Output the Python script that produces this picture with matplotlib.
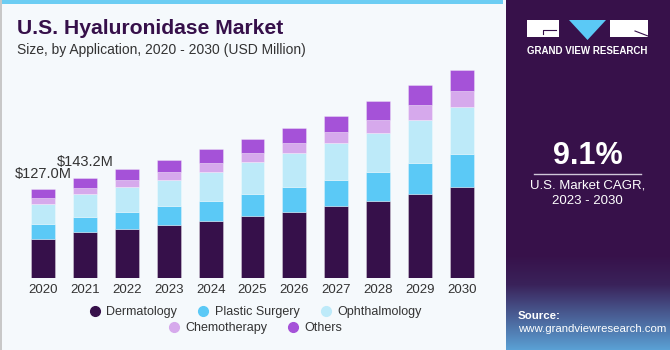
import matplotlib
matplotlib.use("Agg")
import matplotlib.pyplot as plt
import numpy as np
from matplotlib.patches import Rectangle, Polygon
from matplotlib.lines import Line2D

plt.rcParams["font.family"] = ["Liberation Sans", "DejaVu Sans"]

# dane (USD mln)
years = ["2020", "2021", "2022", "2023", "2024", "2025", "2026", "2027", "2028", "2029", "2030"]
dermatology = [56.4, 65.3, 69.6, 75.3, 81.4, 88.0, 94.1, 102.7, 110.2, 120.1, 130.1]
plastic_surgery = [20.6, 22.2, 24.6, 27.4, 28.8, 31.7, 36.0, 36.9, 40.3, 43.6, 46.9]
ophthalmology = [28.8, 31.8, 35.1, 36.9, 40.3, 45.0, 48.3, 52.1, 55.8, 61.1, 65.9]
chemotherapy = [8.5, 9.4, 10.4, 11.4, 12.8, 13.2, 14.2, 16.0, 18.5, 21.3, 23.1]
others = [12.7, 14.5, 15.6, 17.0, 19.9, 19.5, 21.3, 23.7, 26.6, 28.4, 30.8]
series_names = ["Dermatology", "Plastic Surgery", "Ophthalmology", "Chemotherapy", "Others"]
series_colors = ["#36104a", "#5bc9f6", "#bdeaf9", "#d6a9ec", "#a552d8"]
value_labels = {0: "$127.0M", 1: "$143.2M"}

W, H = 670, 350
fig = plt.figure(figsize=(W / 100, H / 100), dpi=100)
fig.patch.set_facecolor("#f5f9fc")

# pasek u góry i lewa krawędź
fig.patches.append(Rectangle((0, 1 - 4 / H), 503 / W, 4 / H, transform=fig.transFigure,
                             facecolor="#6ccdf3", edgecolor="none"))
fig.patches.append(Rectangle((0, 0), 1.5 / W, 1, transform=fig.transFigure,
                             facecolor="#c8c8c8", edgecolor="none"))

fig.text(17 / W, 1 - 29 / H, "U.S. Hyaluronidase Market", fontsize=15.2, fontweight="bold",
         color="#36104a", va="center", ha="left")
fig.text(17 / W, 1 - 50 / H, "Size, by Application, 2020 - 2030 (USD Million)", fontsize=10,
         color="#333333", va="center", ha="left")

# wykres słupkowy
ax = fig.add_axes([22 / W, (H - 278.3) / H, 461 / W, 211 / H])
ax.set_facecolor("none")
x = np.arange(len(years))
bottom = np.zeros(len(years))
for name, vals, col in zip(series_names, [dermatology, plastic_surgery, ophthalmology, chemotherapy, others], series_colors):
    ax.bar(x, vals, width=0.57, bottom=bottom, color=col, label=name,
           edgecolor=(1, 1, 1, 0.35), linewidth=0.6)
    bottom += np.array(vals)

for i, txt in value_labels.items():
    ax.annotate(txt, (x[i], bottom[i]), xytext=(0, 6), textcoords="offset points",
                ha="center", va="bottom", fontsize=10.5, color="#333333")

ax.set_xlim(-0.5, 10.5)
ax.set_ylim(0, 300)
ax.set_xticks(x)
ax.set_xticklabels(years, fontsize=9.5, color="#333333")
ax.tick_params(axis="x", length=0, pad=4)
ax.set_yticks([])
for s in ax.spines.values():
    s.set_visible(False)

# legenda w dwóch wierszach
mk = [Line2D([], [], marker="o", linestyle="none", markersize=7, color=c) for c in series_colors]
leg1 = fig.legend(mk[:3], series_names[:3], ncol=3, loc="center", bbox_to_anchor=(255 / W, 1 - 312 / H),
                  frameon=False, fontsize=9, handletextpad=0.4, columnspacing=1.6, handlelength=1.0)
for t in leg1.get_texts():
    t.set_color("#333333")
leg2 = fig.legend(mk[3:], series_names[3:], ncol=2, loc="center", bbox_to_anchor=(255 / W, 1 - 328 / H),
                  frameon=False, fontsize=9, handletextpad=0.4, columnspacing=1.6, handlelength=1.0)
for t in leg2.get_texts():
    t.set_color("#333333")

# panel po prawej
px0 = 506
axp = fig.add_axes([px0 / W, 0, (W - px0) / W, 1])
axp.set_xlim(px0, W)
axp.set_ylim(H, 0)
axp.axis("off")
top = np.array([0x37, 0x11, 0x4a]) / 255
mid = np.array([0x3a, 0x22, 0x5a]) / 255
bot = np.array([0x5a, 0xa0, 0xd4]) / 255
ys = np.linspace(0, H, 350)
grad = np.zeros((350, 1, 3))
for k, yy in enumerate(ys):
    if yy < 255:
        grad[k, 0] = top
    elif yy < 285:
        t = (yy - 255) / 30
        grad[k, 0] = top * (1 - t) + mid * t
    else:
        t = (yy - 285) / 65
        grad[k, 0] = mid * (1 - t) + bot * t
axp.imshow(grad, extent=[px0, W, H, 0], aspect="auto", zorder=0)

# logo
axp.add_patch(Rectangle((527, 20), 32, 17, facecolor="white", edgecolor="none"))
axp.add_patch(Polygon([(569, 20), (606, 20), (587.5, 40)], closed=True, facecolor="#5bc9f6", edgecolor="none"))
axp.add_patch(Rectangle((610, 20), 38, 17, facecolor="white", edgecolor="none"))
axp.plot([543, 543, 556], [34, 30, 30], color="#36104a", lw=0.8)
axp.plot([635, 648], [31, 36], color="#36104a", lw=0.8)
axp.text(587.5, 51, "GRAND VIEW RESEARCH", color="white", fontsize=7, fontweight="bold",
         ha="center", va="center")

axp.text(587.5, 156, "9.1%", color="white", fontsize=22, fontweight="bold", ha="center", va="center")
axp.plot([534, 641], [173.5, 173.5], color="#cfc7d8", lw=1)
axp.text(587.5, 186, "U.S. Market CAGR,", color="white", fontsize=9.5, ha="center", va="center")
axp.text(587.5, 201, "2023 - 2030", color="white", fontsize=9.5, ha="center", va="center")

axp.text(518, 316, "Source:", color="white", fontsize=8.2, fontweight="bold", ha="left", va="center")
axp.text(518, 329, "www.grandviewresearch.com", color="white", fontsize=8.2, ha="left", va="center")

fig.savefig("out.png", dpi=100, facecolor=fig.get_facecolor())
